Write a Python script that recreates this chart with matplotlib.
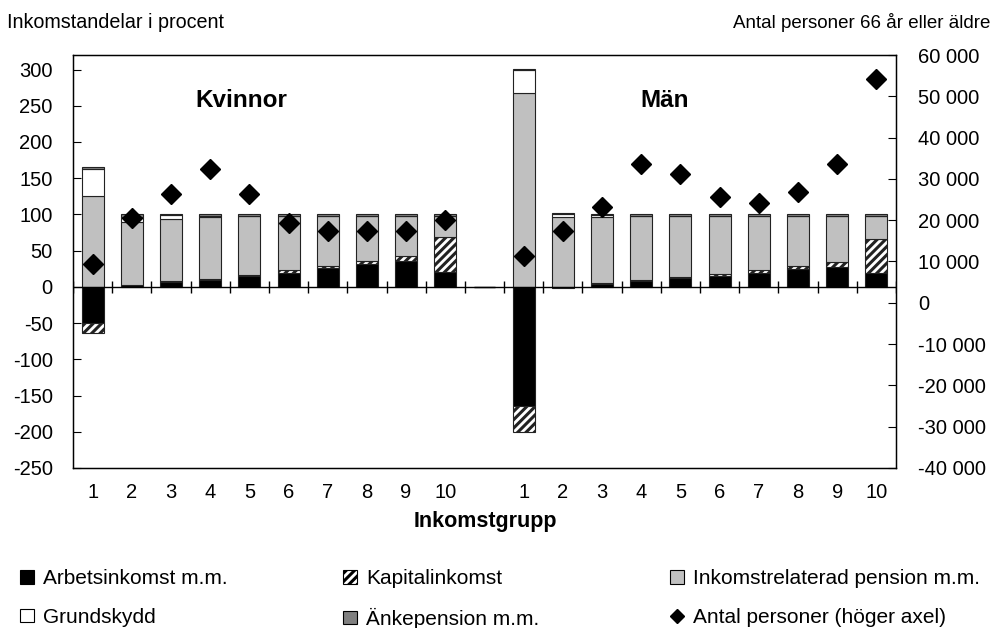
import numpy as np
import matplotlib
matplotlib.use("Agg")
import matplotlib.pyplot as plt
from matplotlib.patches import Rectangle
from matplotlib.lines import Line2D
from matplotlib.ticker import FuncFormatter

plt.rcParams["font.family"] = ["Liberation Sans", "DejaVu Sans"]
plt.rcParams["hatch.linewidth"] = 2.2
plt.rcParams["axes.unicode_minus"] = False

# ── Data (income shares in percent, persons on right axis) ──
groups = [str(i) for i in range(1, 11)]

kv_arbets = [-50, 2, 7, 10, 15, 19, 26, 31, 36, 21]
kv_kapital = [-13, 1, 1, 1.5, 2, 4, 3, 4.5, 6, 48]
kv_pension = [125, 86, 85, 84.5, 81, 75, 69, 62.5, 56, 29]
kv_grund = [37, 8, 6, 2, 0, 0, 0, 0, 0, 0]
kv_anke = [3, 3, 1, 2, 2, 2, 2, 2, 2, 2]
kv_antal = [9300, 20600, 26300, 32300, 26300, 19400, 17300, 17300, 17300, 20000]

man_arbets = [-165, -2, 4, 8, 12, 15, 19, 24, 28, 19]
man_kapital = [-35, 0, 1, 1, 2, 3, 4, 5, 6, 47]
man_pension = [267, 96, 91, 89, 84, 80, 75, 69, 64, 32]
man_grund = [32, 5, 2.5, 0, 0, 0, 0, 0, 0, 0]
man_anke = [1.5, 1, 1.5, 2, 2, 2, 2, 2, 2, 2]
man_antal = [11400, 17500, 23300, 33500, 31100, 25500, 24200, 26800, 33700, 54200]

series_names = ["Arbetsinkomst m.m.", "Kapitalinkomst", "Inkomstrelaterad pension m.m.",
                "Grundskydd", "Änkepension m.m."]
series_colors = ["black", "white", "#c0c0c0", "white", "#808080"]
series_hatch = [None, "////", None, None, None]

# combine with an empty slot between women and men
gap = [np.nan]
series = [
    kv_arbets + gap + man_arbets,
    kv_kapital + gap + man_kapital,
    kv_pension + gap + man_pension,
    kv_grund + gap + man_grund,
    kv_anke + gap + man_anke,
]
antal = np.array(kv_antal + gap + man_antal, dtype=float)
labels = groups + [""] + groups
x = np.arange(len(labels))

fig = plt.figure(figsize=(9.92, 6.28), dpi=100)
ax = fig.add_axes([0.0736, 0.2548, 0.8296, 0.6576])

pos_bottom = np.zeros(len(x))
neg_bottom = np.zeros(len(x))
for vals, col, hat in zip(series, series_colors, series_hatch):
    v = np.nan_to_num(np.array(vals, dtype=float))
    bottom = np.where(v >= 0, pos_bottom, neg_bottom)
    ax.bar(x, v, 0.56, bottom=bottom, color=col, edgecolor="#222222",
           linewidth=0.8, hatch=hat, zorder=2)
    pos_bottom = pos_bottom + np.where(v > 0, v, 0)
    neg_bottom = neg_bottom + np.where(v < 0, v, 0)

ax.set_xlim(-0.5, len(x) - 0.5)
ax.set_ylim(-250, 320)
ax.set_yticks(np.arange(-250, 301, 50))
ax.set_xticks(x)
ax.set_xticklabels(labels)
ax.tick_params(axis="x", length=0, pad=11, labelsize=14.5)
ax.tick_params(axis="y", direction="in", length=6, labelsize=14.5, pad=14.5)

# zero line with category-boundary ticks crossing it
ax.axhline(0, color="black", linewidth=1, zorder=3)
ax.vlines(np.arange(len(x) + 1) - 0.5, -8, 8, color="black", linewidth=1, zorder=3)

for sp in ax.spines.values():
    sp.set_linewidth(1)

ax2 = ax.twinx()
ax2.plot(x, antal, linestyle="none", marker="D", markersize=10,
         color="black", zorder=4)
ax2.set_ylim(-40000, 60000)
ax2.set_yticks(np.arange(-40000, 60001, 10000))
ax2.yaxis.set_major_formatter(FuncFormatter(lambda v, p: f"{int(v):,}".replace(",", " ")))
ax2.tick_params(axis="y", direction="in", length=6, labelsize=14.5, pad=16)

ax.text(0.205, 0.889, "Kvinnor", transform=ax.transAxes, ha="center", va="center",
        fontsize=17.5, fontweight="bold")
ax.text(0.719, 0.889, "Män", transform=ax.transAxes, ha="center", va="center",
        fontsize=17.5, fontweight="bold")

fig.text(7 / 992, 1 - 23 / 628, "Inkomstandelar i procent", ha="left", va="center", fontsize=14.2)
fig.text(990 / 992, 1 - 23 / 628, "Antal personer 66 år eller äldre", ha="right", va="center",
         fontsize=13.5)
fig.text(485 / 992, 1 - 522 / 628, "Inkomstgrupp", ha="center", va="center",
         fontsize=15.5, fontweight="bold")

# legend in three columns, two rows
handles = [Rectangle((0, 0), 1, 1, facecolor=c, edgecolor="black", linewidth=0.8, hatch=h)
           for c, h in zip(series_colors, series_hatch)]
handles.append(Line2D([], [], linestyle="none", marker="D", markersize=7, color="black"))
names = series_names + ["Antal personer (höger axel)"]
col_x = [20 / 992, 343 / 992, 670 / 992]
for i, cx in enumerate(col_x):
    fig.legend([handles[i], handles[i + 3]], [names[i], names[i + 3]],
               loc="upper left", bbox_to_anchor=(cx, 1 - 569 / 628), frameon=False,
               fontsize=15, handlelength=0.65, handleheight=0.65, handletextpad=0.45,
               labelspacing=0.95, borderaxespad=0, borderpad=0)

fig.savefig("out.png", dpi=100)
